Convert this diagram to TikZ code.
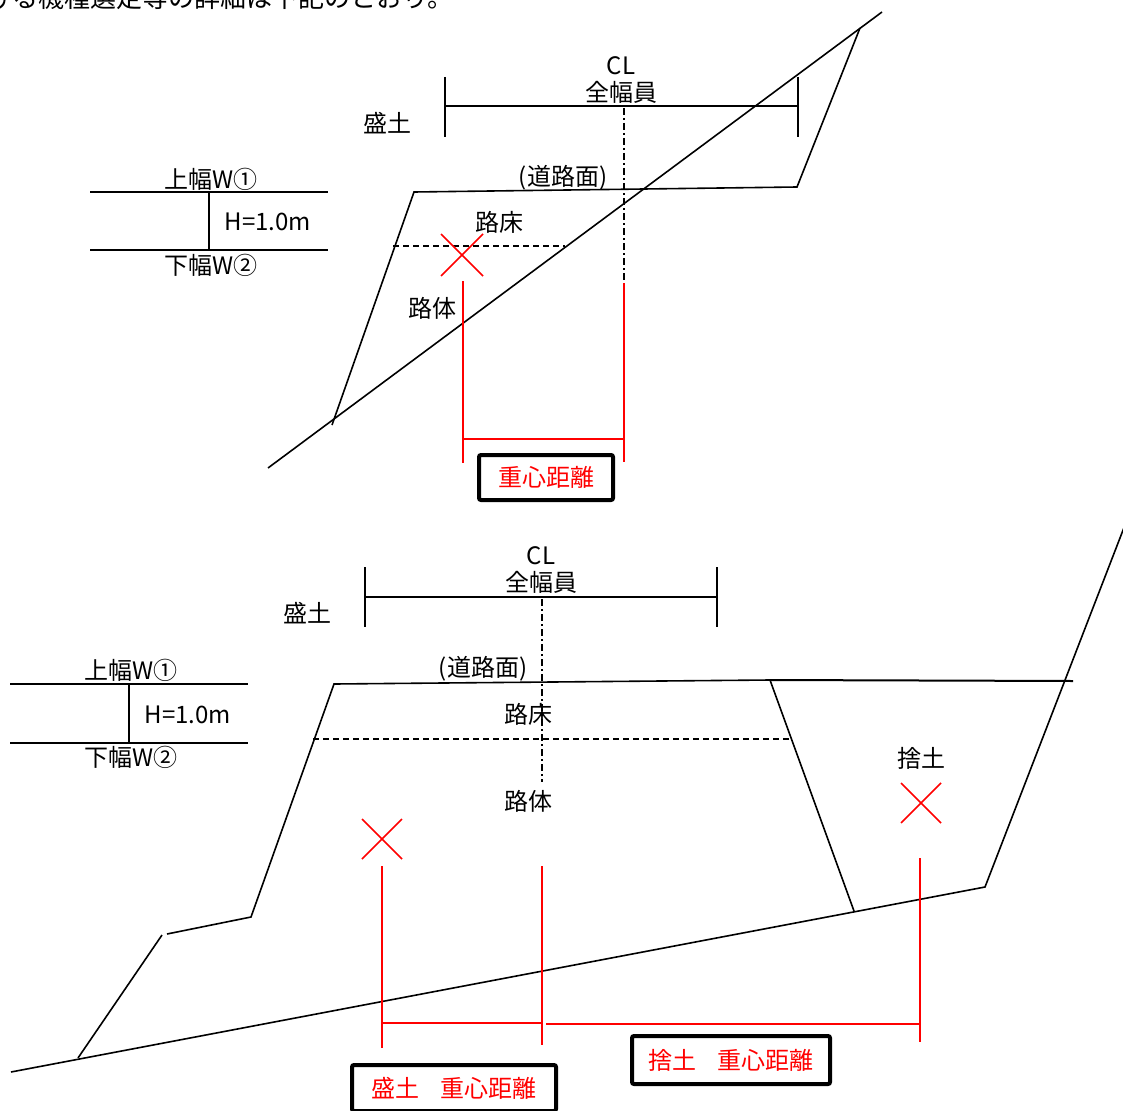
\documentclass[tikz,border=0pt]{standalone}
\usepackage{fontspec}
\setmainfont{Noto Sans CJK JP}
\usetikzlibrary{calc}
\begin{document}
\begin{tikzpicture}[x=1pt,y=-1pt,
  ln/.style={line width=1.6pt},
  dimln/.style={line width=2pt},
  rd/.style={draw=red,line width=1.6pt},
  cline/.style={line width=1.3pt,dash pattern=on 7pt off 3pt on 2pt off 3pt},
  dline/.style={line width=1.3pt,dash pattern=on 6pt off 4pt},
  lbl/.style={font=\fontsize{24}{28}\selectfont,inner sep=0pt,text=black},
  gbox/.style={draw=black,line width=4pt,rounded corners=2pt,inner sep=0pt,
    text=red,font=\fontsize{24}{28}\selectfont}]
\useasboundingbox (0,0) rectangle (1123,1110);

% cut-off heading line
\node[lbl,anchor=west,font=\fontsize{26}{30}\selectfont] (head) at (-14,-2) {ける機種選定等の詳細は下記のとおり。};

% ================= TOP DIAGRAM =================
\coordinate (tg1) at (268,468);
\coordinate (tg2) at (882,12);
\coordinate (tA) at (332,425);
\coordinate (tB) at (414,192);
\coordinate (tC) at (797,187);
\coordinate (tD) at (860,28);
\draw[ln] (tg1) -- (tg2);
\draw[ln] (tA) -- (tB) -- (tC) -- (tD);

% width dimension
\coordinate (tw1) at (445,106);
\coordinate (tw2) at (798,106);
\coordinate (tw1a) at (445,77);  \coordinate (tw1b) at (445,137);
\coordinate (tw2a) at (798,77);  \coordinate (tw2b) at (798,137);
\draw[dimln] (tw1) -- (tw2);
\draw[dimln] (tw1a) -- (tw1b);
\draw[dimln] (tw2a) -- (tw2b);
\node[lbl] (tCL) at (621,66) {CL};
\node[lbl] (tZW) at (621,92) {全幅員};
\node[lbl] (tMo) at (387,123) {盛土};

% centre line
\coordinate (tc1) at (624,108);
\coordinate (tc2) at (624,280);
\draw[cline] (tc1) -- (tc2);

\node[lbl] (tRo) at (563,178) {(道路面)};
\node[lbl] (tRs) at (499,222) {路床};
\coordinate (td1) at (393,246);
\coordinate (td2) at (565,246);
\draw[dline] (td1) -- (td2);
\node[lbl] (tRt) at (432,308) {路体};

% centroid mark
\coordinate (tx) at (462,255);
\draw[rd] ($(tx)+(-21,-21)$) -- ($(tx)+(21,21)$);
\draw[rd] ($(tx)+(-21,21)$) -- ($(tx)+(21,-21)$);

% red dimension
\coordinate (tr1a) at (463,281); \coordinate (tr1b) at (463,463);
\coordinate (tr2a) at (624,283); \coordinate (tr2b) at (624,462);
\coordinate (trh1) at (463,439); \coordinate (trh2) at (624,439);
\draw[rd] (tr1a) -- (tr1b);
\draw[rd] (tr2a) -- (tr2b);
\draw[rd] (trh1) -- (trh2);
\node[gbox,minimum width=134pt,minimum height=45pt] (tbox) at (546,477.5) {重心距離};

% legend top
\coordinate (tl1a) at (90,192);  \coordinate (tl1b) at (328,192);
\coordinate (tl2a) at (90,250);  \coordinate (tl2b) at (328,250);
\coordinate (tlv1) at (209,192); \coordinate (tlv2) at (209,250);
\draw[dimln] (tl1a) -- (tl1b);
\draw[dimln] (tl2a) -- (tl2b);
\draw[dimln] (tlv1) -- (tlv2);
\node[lbl] (tU) at (211,179) {上幅W①};
\node[lbl] (tH) at (268,222) {H=1.0m};
\node[lbl] (tL) at (211,265) {下幅W②};

% ================= BOTTOM DIAGRAM =================
\coordinate (bg1) at (11,1072);
\coordinate (bg2) at (985,887);
\coordinate (bg3) at (1125,525);
\draw[ln] (bg1) -- (bg2) -- (bg3);

\coordinate (bA) at (78,1058);
\coordinate (bB) at (162,935);
\coordinate (bC) at (167,934);
\coordinate (bD) at (251,917);
\coordinate (bE) at (334,684);
\coordinate (bF) at (770,680);
\coordinate (bG) at (1073,681);
\coordinate (bH) at (854,911);
\draw[ln] (bA) -- (bB);
\draw[ln] (bC) -- (bD) -- (bE) -- (bF);
\draw[line width=2pt] (bF) -- (bG);
\draw[ln] (bF) -- (bH);

% width dimension
\coordinate (bw1) at (365,597);
\coordinate (bw2) at (717,597);
\coordinate (bw1a) at (365,567); \coordinate (bw1b) at (365,627);
\coordinate (bw2a) at (717,567); \coordinate (bw2b) at (717,627);
\draw[dimln] (bw1) -- (bw2);
\draw[dimln] (bw1a) -- (bw1b);
\draw[dimln] (bw2a) -- (bw2b);
\node[lbl] (bCL) at (541,556) {CL};
\node[lbl] (bZW) at (541,582) {全幅員};
\node[lbl] (bMo) at (307,613) {盛土};

\coordinate (bc1) at (542,599);
\coordinate (bc2) at (542,782);
\draw[cline] (bc1) -- (bc2);

\node[lbl] (bRo) at (483,669) {(道路面)};
\node[lbl] (bRs) at (528,714) {路床};
\coordinate (bd1) at (313,739);
\coordinate (bd2) at (790,739);
\draw[dline] (bd1) -- (bd2);
\node[lbl] (bRt) at (528,801) {路体};
\node[lbl] (bSu) at (921,758) {捨土};

% centroid marks
\coordinate (bx1) at (382,839);
\coordinate (bx2) at (921,803);
\foreach \c in {bx1,bx2}{
  \draw[rd] ($(\c)+(-20,-20)$) -- ($(\c)+(20,20)$);
  \draw[rd] ($(\c)+(-20,20)$) -- ($(\c)+(20,-20)$);
}

% red dimensions
\coordinate (br1a) at (382,866); \coordinate (br1b) at (382,1048);
\coordinate (br2a) at (542,866); \coordinate (br2b) at (542,1045);
\coordinate (br3a) at (920,858); \coordinate (br3b) at (920,1042);
\coordinate (brh1) at (382,1023); \coordinate (brh2) at (542,1023);
\coordinate (brh3) at (546,1024); \coordinate (brh4) at (920,1024);
\draw[rd] (br1a) -- (br1b);
\draw[rd] (br2a) -- (br2b);
\draw[rd] (br3a) -- (br3b);
\draw[rd] (brh1) -- (brh2);
\draw[rd] (brh3) -- (brh4);
\node[gbox,minimum width=204pt,minimum height=46pt] (bbox1) at (454,1088) {盛土\hspace{0.9em}重心距離};
\node[gbox,minimum width=198pt,minimum height=48pt] (bbox2) at (731,1060) {捨土\hspace{0.9em}重心距離};

% legend bottom
\coordinate (bl1a) at (10,684);  \coordinate (bl1b) at (248,684);
\coordinate (bl2a) at (10,743);  \coordinate (bl2b) at (248,743);
\coordinate (blv1) at (129,684); \coordinate (blv2) at (129,743);
\draw[dimln] (bl1a) -- (bl1b);
\draw[dimln] (bl2a) -- (bl2b);
\draw[dimln] (blv1) -- (blv2);
\node[lbl] (bU) at (131,670) {上幅W①};
\node[lbl] (bH) at (188,715) {H=1.0m};
\node[lbl] (bL) at (131,757) {下幅W②};
\end{tikzpicture}
\end{document}
